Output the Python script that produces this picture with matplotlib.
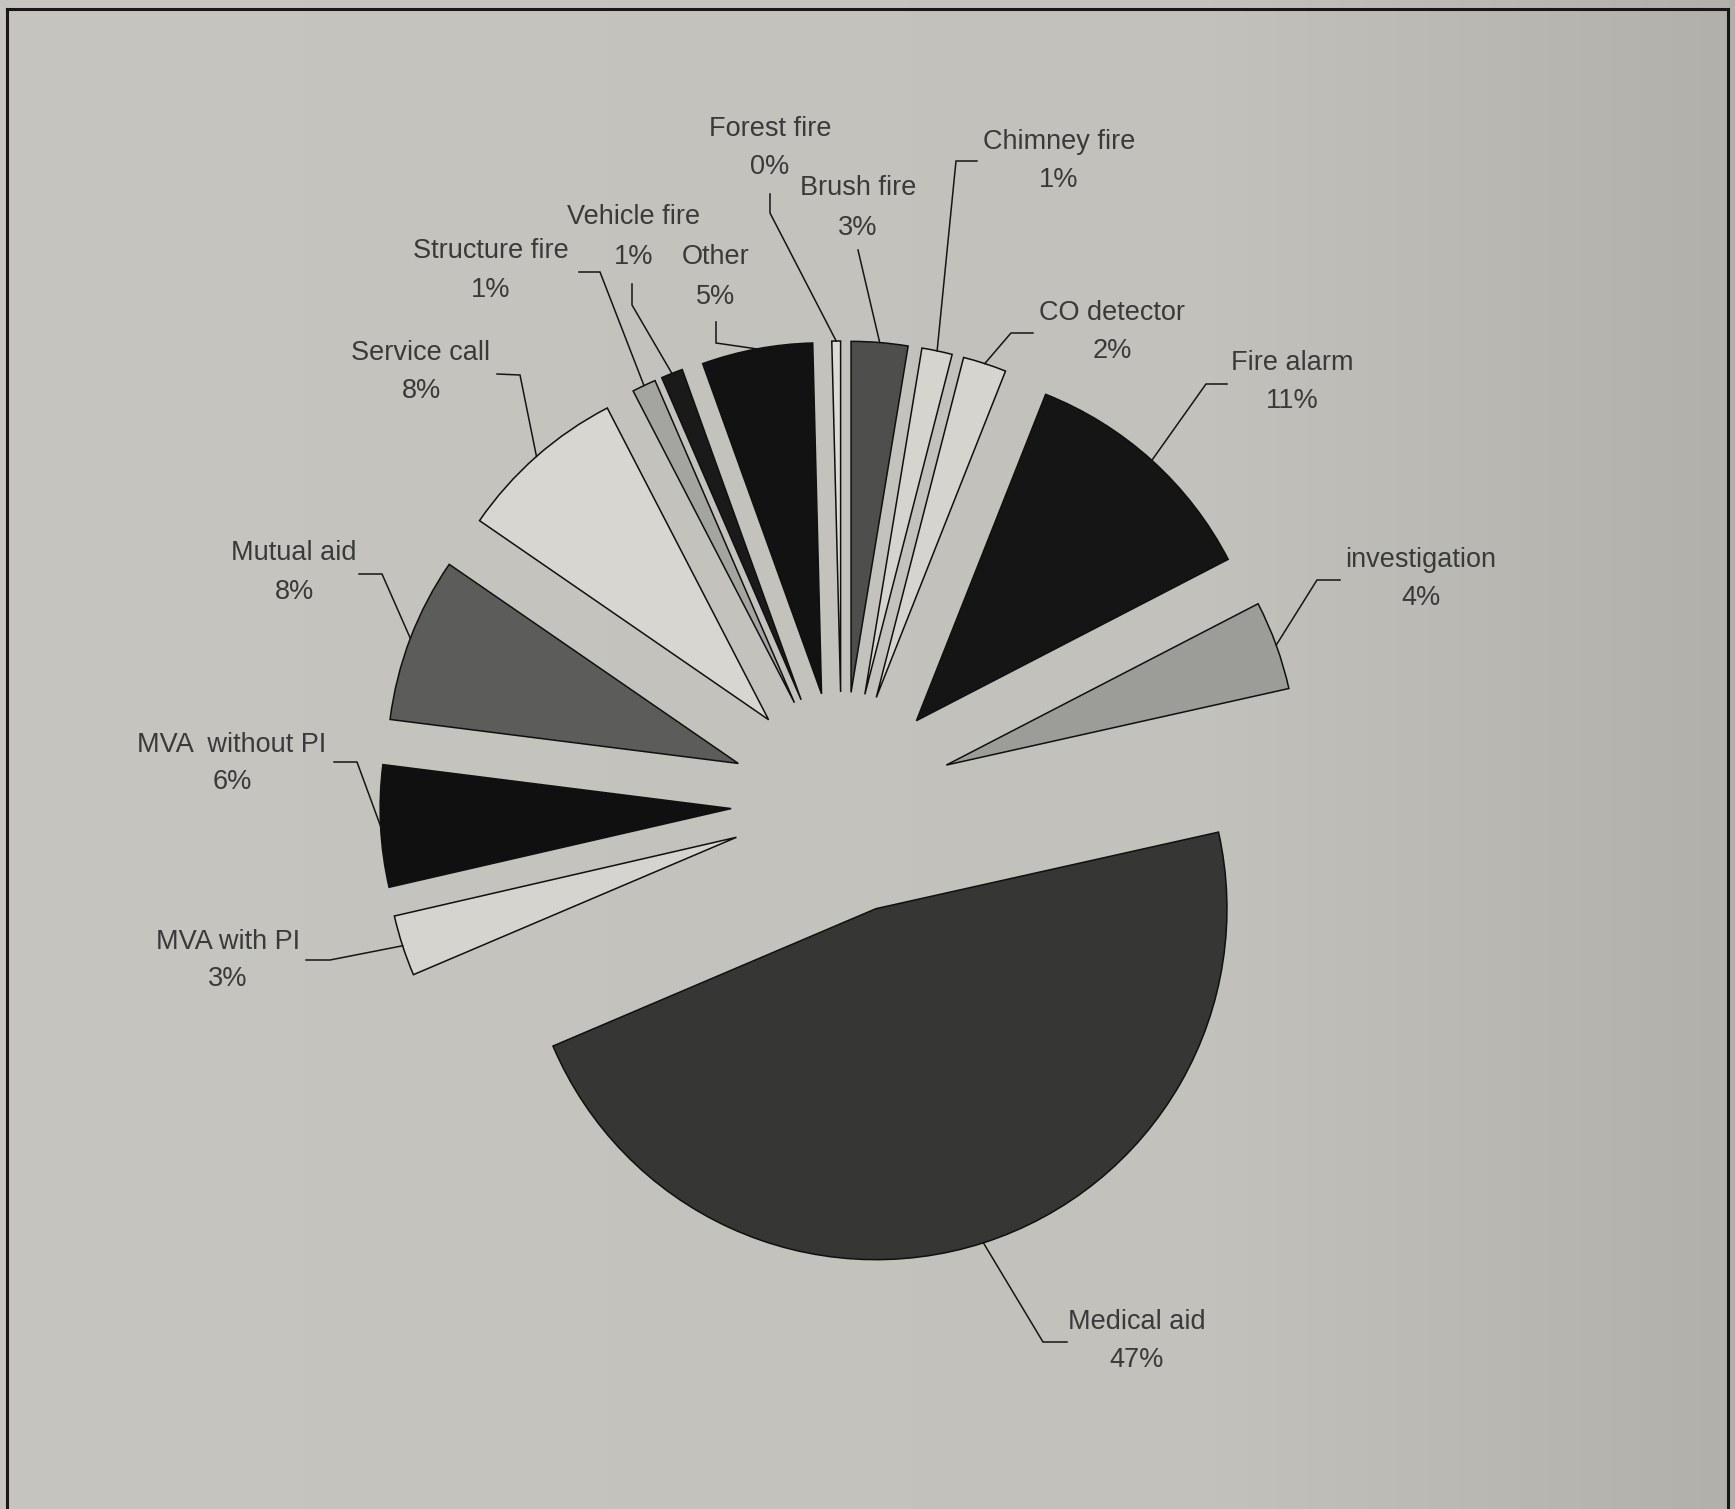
import numpy as np
import matplotlib
matplotlib.use("Agg")
import matplotlib.pyplot as plt
from matplotlib.lines import Line2D

# Call types (clockwise from 12 o'clock) and their share of all calls, in percent
categories = ["Brush fire", "Chimney fire", "CO detector", "Fire alarm", "investigation",
              "Medical aid", "MVA with PI", "MVA  without PI", "Mutual aid", "Service call",
              "Structure fire", "Vehicle fire", "Other", "Forest fire"]
shares = [2.6, 1.4, 2.0, 11.4, 4.1, 47.1, 2.8, 5.6, 7.6, 7.8, 1.1, 1.0, 5.1, 0.4]

# Slice fills
LIGHT = "#d5d4cf"
colors = ["#4e4e4c", LIGHT, LIGHT, "#151515", "#9c9c99",
          "#363634", LIGHT, "#101010", "#5c5c5a", "#d7d6d1",
          "#a4a4a1", "#1a1a1a", "#121212", "#dcdbd6"]

# Layout (pixels): pie centre, radius, explosion distance
W, H = 1735, 1509
CX, CY, RPX, EXPL = 842, 803, 351, 111

# Label block positions (pixels): x centre, name line y, percent line y
label_x = [858, 1059, 1112, 1292, 1421, 1137, 228, 232, 294, 421, 491, 634, 716, 770]
name_y = [188, 142, 313, 363, 560, 1322, 942, 745, 553, 353, 251, 217, 257, 129]
pct_y = [228, 180, 351, 401, 598, 1360, 979, 782, 592, 391, 290, 257, 297, 167]

# Leader line points on the label side (pixels); each ends at the slice's outer arc midpoint
leader_pts = [
    [(858, 250)],
    [(977, 161), (956, 161)],
    [(1033, 333), (1011, 333)],
    [(1227, 384), (1206, 384)],
    [(1340, 580), (1317, 580)],
    [(1067, 1342), (1043, 1342)],
    [(306, 960), (330, 960)],
    [(334, 762), (357, 762)],
    [(359, 574), (382, 574)],
    [(497, 374), (520, 375)],
    [(579, 272), (600, 272)],
    [(632, 284), (632, 305)],
    [(716, 322), (716, 343)],
    [(770, 194), (770, 213)],
]


def to_data(x, y):
    return (x - CX) / RPX, (CY - y) / RPX


fig = plt.figure(figsize=(W / 100, H / 100), dpi=100)

# Paper background, slightly darker toward the right
bg = fig.add_axes([0, 0, 1, 1])
xs = np.linspace(0, 1, 400)
left = np.array([198, 197, 191]) / 255
mid = np.array([194, 193, 187]) / 255
right = np.array([177, 176, 171]) / 255
grad = np.where(xs[:, None] < 0.7,
                left + (mid - left) * (xs[:, None] / 0.7),
                mid + (right - mid) * ((xs[:, None] - 0.7) / 0.3))
bg.imshow(grad[None, :, :], aspect="auto", extent=[0, 1, 0, 1])
bg.axis("off")

ax = fig.add_axes([0, 0, 1, 1])
ax.set_facecolor("none")

wedges, _ = ax.pie(shares, radius=1.0, center=(0, 0), startangle=90, counterclock=False,
                   explode=[EXPL / RPX] * len(shares), colors=colors,
                   wedgeprops=dict(edgecolor="#101010", linewidth=1.1))

ax.set_xlim(-CX / RPX, (W - CX) / RPX)
ax.set_ylim((CY - H) / RPX, CY / RPX)
ax.set_aspect("auto")
ax.axis("off")

total = sum(shares)
font = ["Liberation Sans", "DejaVu Sans"]
for i, (name, val) in enumerate(zip(categories, shares)):
    w = wedges[i]
    mid_ang = np.deg2rad(0.5 * (w.theta1 + w.theta2))
    ax_pt = (w.center[0] + w.r * np.cos(mid_ang), w.center[1] + w.r * np.sin(mid_ang))
    pts = [to_data(px, py) for px, py in leader_pts[i]] + [ax_pt]
    ax.plot([p[0] for p in pts], [p[1] for p in pts], color="#151515", lw=1.1,
            solid_joinstyle="miter", zorder=3)
    pct = f"{round(100 * val / total)}%"
    lx, ly1 = to_data(label_x[i], name_y[i])
    _, ly2 = to_data(label_x[i], pct_y[i])
    ax.text(lx, ly1, name, ha="center", va="center", fontsize=19.5, color="#3a3a3a", family=font)
    ax.text(lx, ly2, pct, ha="center", va="center", fontsize=19.5, color="#3a3a3a", family=font)

# Page frame (left, top, right)
fc = "#1a1616"
fig.add_artist(Line2D([7 / W, 7 / W], [0, 1 - 9 / H], transform=fig.transFigure, color=fc, lw=2.2))
fig.add_artist(Line2D([7 / W, 1728 / W], [1 - 9 / H, 1 - 9 / H], transform=fig.transFigure, color=fc, lw=2.2))
fig.add_artist(Line2D([1728 / W, 1728 / W], [0, 1 - 9 / H], transform=fig.transFigure, color=fc, lw=2.2))

fig.savefig("out.png", dpi=100)
